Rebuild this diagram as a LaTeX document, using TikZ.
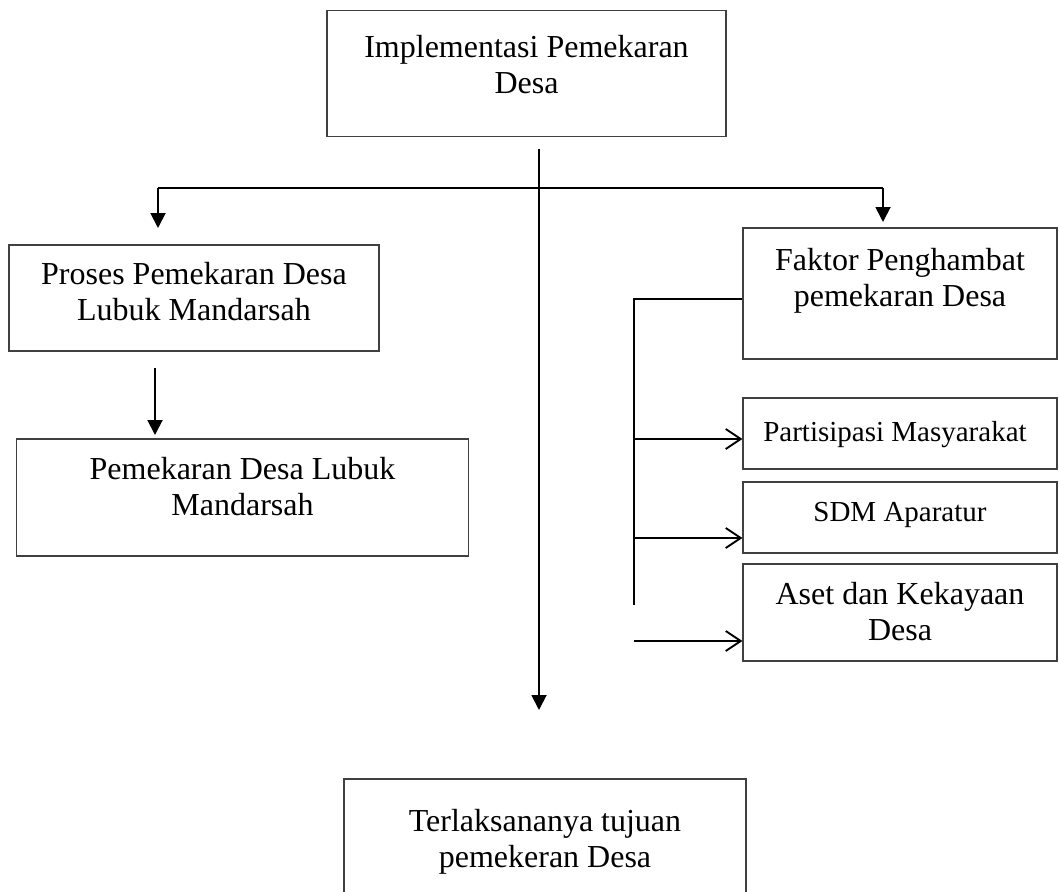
\documentclass[tikz,border=0pt]{standalone}
\usepackage{fontspec}
\setmainfont{Liberation Serif}
\usetikzlibrary{arrows.meta}
\begin{document}
\begin{tikzpicture}[x=1pt,y=-1pt,
  box/.style={draw=black!75, line width=1.1pt, inner sep=0pt, rectangle},
  big/.style={font=\fontsize{32}{35.5}\selectfont, align=center, anchor=base, inner sep=0pt},
  small/.style={font=\fontsize{29}{32}\selectfont, align=center, anchor=base, inner sep=0pt},
  conn/.style={line width=1.9pt},
  filled/.style={conn, -{Triangle[length=15pt,width=15pt]}},
  openarr/.style={conn, -{Straight Barb[length=15pt,width=20pt]}}]
\useasboundingbox (0,0) rectangle (1059,891);
\clip (0,0) rectangle (1059,891);
% boxes
\node[box, minimum width=399pt, minimum height=126pt] (top) at (526.5,73.5) {};
\node[box, minimum width=370pt, minimum height=106pt] (proc) at (194,298) {};
\node[box, minimum width=452pt, minimum height=117pt] (pem) at (242.5,497.5) {};
\node[box, minimum width=314pt, minimum height=131pt] (fak) at (900,293.5) {};
\node[box, minimum width=314pt, minimum height=71pt] (par) at (900,433.5) {};
\node[box, minimum width=314pt, minimum height=71pt] (sdm) at (900,517.5) {};
\node[box, minimum width=314pt, minimum height=97pt] (aset) at (900,612.5) {};
\node[box, minimum width=402pt, minimum height=141pt] (bot) at (545,849.5) {};
% texts (base anchor = baseline of the last line)
\node[big] (topT) at (526.5,93) {Implementasi Pemekaran\\Desa};
\node[big] (procT) at (194,320) {Proses Pemekaran Desa\\Lubuk Mandarsah};
\node[big] (pemT) at (242.5,515) {Pemekaran Desa Lubuk\\Mandarsah};
\node[big] (fakT) at (900,306) {Faktor Penghambat\\pemekaran Desa};
\node[small] (parT) at (895,441) {Partisipasi Masyarakat};
\node[small] (sdmT) at (900,521) {SDM Aparatur};
\node[big] (asetT) at (900,640) {Aset dan Kekayaan\\Desa};
\node[big] (botT) at (545,867) {Terlaksananya tujuan\\pemekeran Desa};
% connector points
\coordinate (s) at (539,149);
\coordinate (j) at (539,188);
\coordinate (hl) at (158,188);
\coordinate (hr) at (883,188);
\coordinate (end) at (539,710);
\coordinate (pa) at (155,368);
\coordinate (bt) at (634,299);
\coordinate (bb) at (634,605);
\coordinate (a1) at (634,439);
\coordinate (a2) at (634,538);
\coordinate (a3) at (634,641);
% connectors
\draw[conn] (s) -- (j);
\draw[filled] (j) -- (end);
\draw[conn] (hl) -- (hr);
\draw[filled] (hl) -- (hl |- 0,228);
\draw[filled] (hr) -- (hr |- 0,222);
\draw[filled] (pa) -- (pa |- 0,435);
\draw[conn] (fak.west |- bt) -- (bt) -- (bb);
\draw[openarr] (a1) -- (par.west |- a1);
\draw[openarr] (a2) -- (sdm.west |- a2);
\draw[openarr] (a3) -- (aset.west |- a3);
\end{tikzpicture}
\end{document}
